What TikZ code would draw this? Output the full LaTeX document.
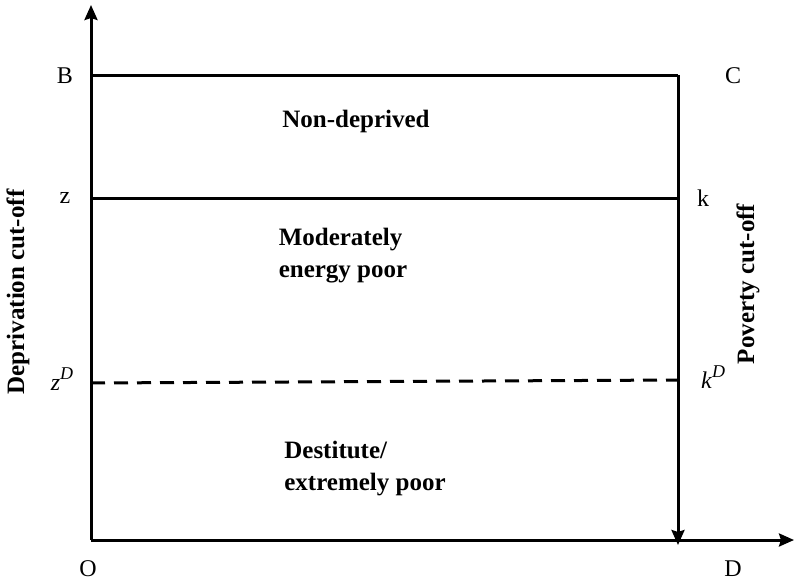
\documentclass[tikz,border=0pt]{standalone}
\usepackage{fontspec}
\setmainfont{Liberation Serif}
\usetikzlibrary{arrows.meta}
\begin{document}
\begin{tikzpicture}[x=1pt,y=-1pt,
  axis/.style={line width=3pt},
  lbl/.style={font=\fontsize{24}{28}\selectfont, inner sep=0pt},
  region/.style={font=\fontsize{25}{32}\selectfont\bfseries, align=left, inner sep=0pt},
  side/.style={font=\fontsize{25}{30}\selectfont\bfseries, inner sep=0pt, rotate=90},
  tip/.style={-{Stealth[length=15pt,width=13pt,inset=2pt]}}]
\useasboundingbox (0,0) rectangle (795,582);
\coordinate (O) at (91,540);
\coordinate (Ytop) at (91,5);
\coordinate (Xend) at (794,540);
\coordinate (B) at (91,75);
\coordinate (C) at (678,75);
\coordinate (Dd) at (678,545);
\coordinate (Z) at (91,198);
\coordinate (K) at (678,198);
\coordinate (ZD) at (91,383);
\coordinate (KD) at (678,380);
% axes
\draw[axis,tip] (O) -- (Ytop);
\draw[axis,tip] (O) -- (Xend);
\draw[axis] (B) -- (C);
\draw[axis,tip] (C) -- (Dd);
\draw[axis] (Z) -- (K);
\draw[axis,dashed,dash pattern=on 14pt off 9pt] (ZD) -- (KD);
% labels
\node[lbl] (lB) at (65,76) {B};
\node[lbl] (lC) at (733,76) {C};
\node[lbl] (lz) at (65,198) {z};
\node[lbl] (lk) at (703,198) {k};
\node[lbl] (lzD) at (62,379) {\textit{z}\raisebox{1.0ex}{\fontsize{18}{20}\selectfont\textit{D}}};
\node[lbl] (lkD) at (713,377) {\textit{k}\raisebox{1.0ex}{\fontsize{18}{20}\selectfont\textit{D}}};
\node[lbl] (lO) at (88,569) {O};
\node[lbl] (lD) at (733,569) {D};
% regions
\node[region] (nd) at (356,121) {Non-deprived};
\node[region] (mod) at (343,256) {Moderately\\energy poor};
\node[region] (dest) at (365,469) {Destitute/\\extremely poor};
% side labels
\node[side] (dep) at (18,292) {Deprivation cut-off};
\node[side] (pov) at (748,284) {Poverty cut-off};
\end{tikzpicture}
\end{document}
